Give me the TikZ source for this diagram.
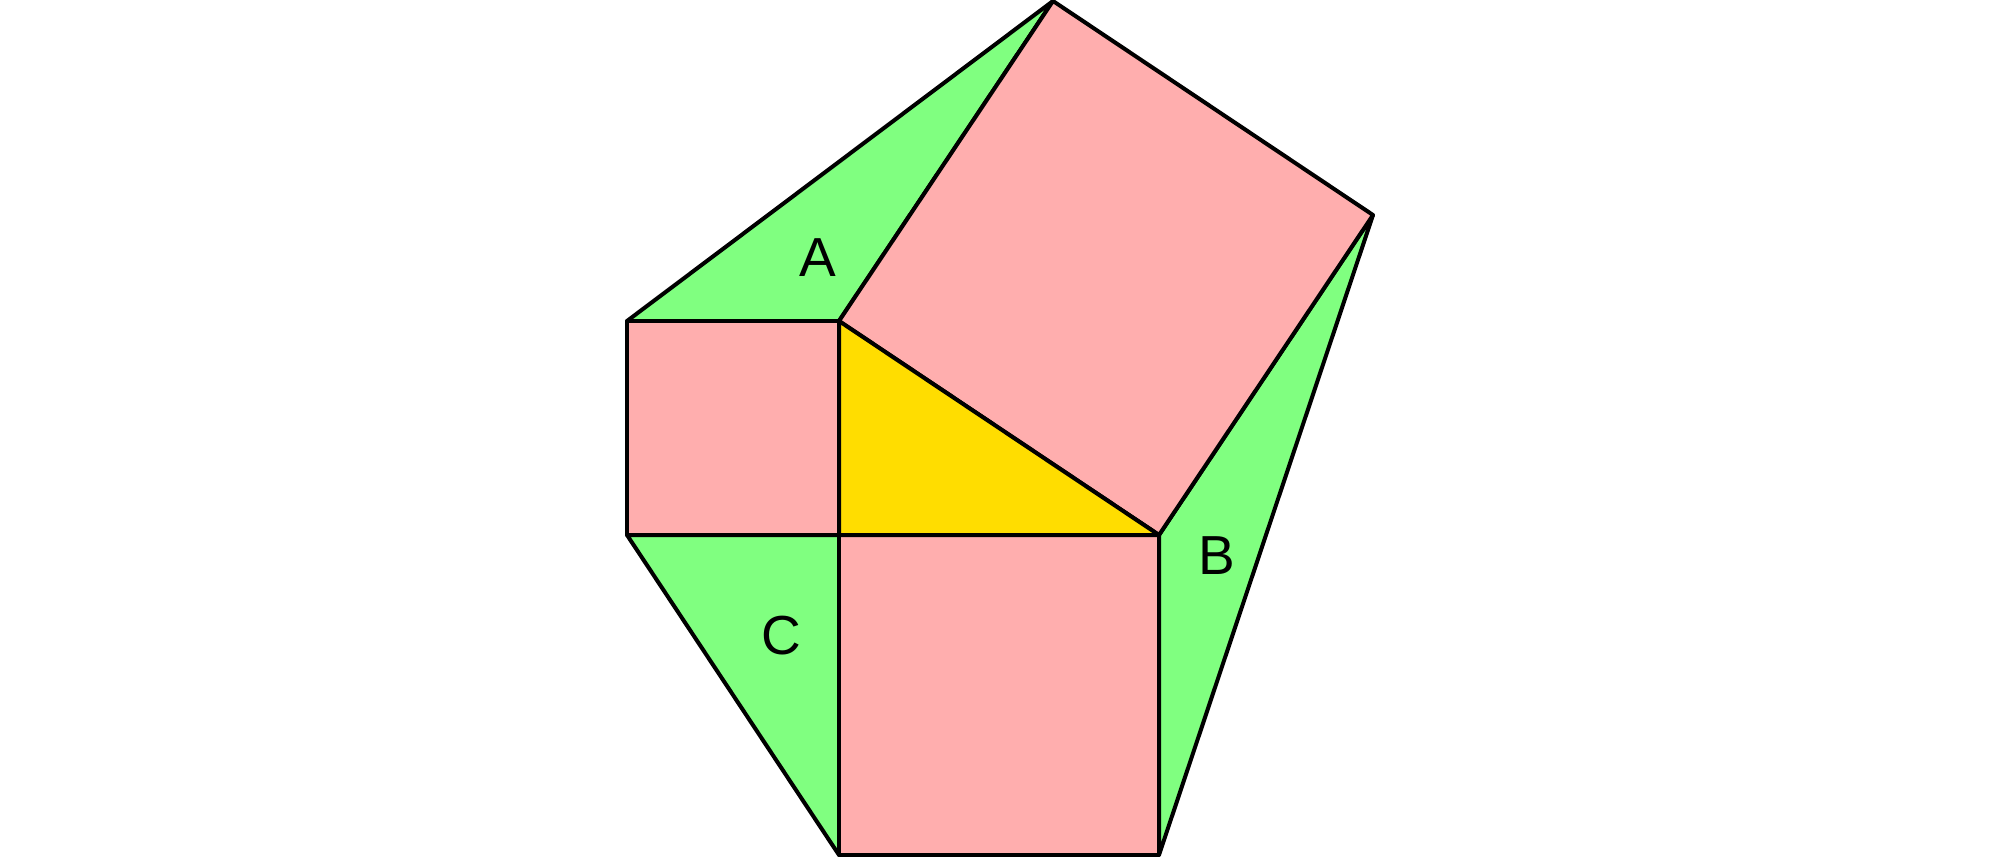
\documentclass[tikz,border=0pt]{standalone}
\usepackage{fontspec}
\setmainfont{Liberation Sans}
\definecolor{tgreen}{HTML}{80FF80}
\definecolor{tpink}{HTML}{FFAEAE}
\definecolor{tyellow}{HTML}{FFDD00}
\tikzset{
  piece/.style={draw=black, line width=4pt, line join=round},
  lbl/.style={font=\fontsize{55}{60}\selectfont, inner sep=0pt}
}
\begin{document}
\begin{tikzpicture}[x=1pt,y=-1pt]
\useasboundingbox (0,0) rectangle (2000,857);
\coordinate (L1) at (627,321);
\coordinate (P) at (839,321);
\coordinate (L2) at (627,535);
\coordinate (R) at (839,535);
\coordinate (Q) at (1159,535);
\coordinate (T) at (1053,1);
\coordinate (U) at (1373,215);
\coordinate (D1) at (839,855);
\coordinate (D2) at (1159,855);
% triangles
\filldraw[piece, fill=tgreen] (L1) -- (P) -- (T) -- cycle;
\filldraw[piece, fill=tgreen] (Q) -- (U) -- (D2) -- cycle;
\filldraw[piece, fill=tgreen] (L2) -- (R) -- (D1) -- cycle;
% squares
\filldraw[piece, fill=tpink] (L1) -- (P) -- (R) -- (L2) -- cycle;
\filldraw[piece, fill=tpink] (R) -- (Q) -- (D2) -- (D1) -- cycle;
\filldraw[piece, fill=tpink] (P) -- (T) -- (U) -- (Q) -- cycle;
% central triangle
\filldraw[piece, fill=tyellow] (P) -- (R) -- (Q) -- cycle;
% labels
\node[lbl] (a) at (818,258) {A};
\node[lbl] (b) at (1217,556) {B};
\node[lbl] (c) at (781,636) {C};
\end{tikzpicture}
\end{document}
